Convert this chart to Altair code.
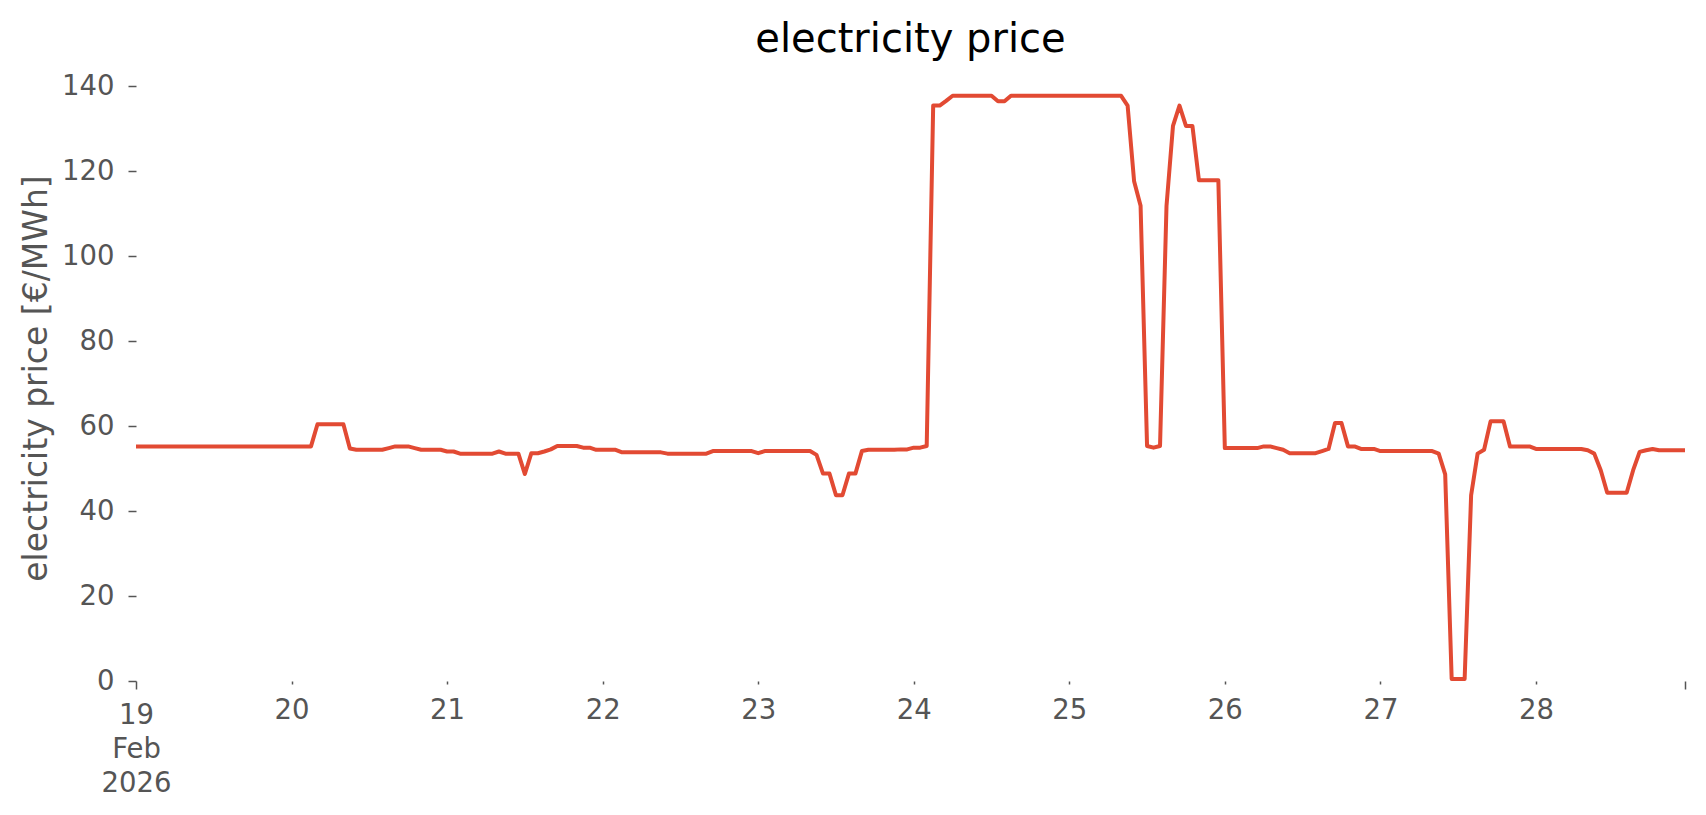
import altair as alt
import pandas as pd

# hourly day-ahead prices [€/MWh], 19 Feb 2026 00:00 .. 28 Feb 2026 23:00 (UTC)
feb19 = [55.2, 55.2, 55.2, 55.2, 55.2, 55.2, 55.2, 55.2, 55.2, 55.2, 55.2, 55.2,
         55.2, 55.2, 55.2, 55.2, 55.2, 55.2, 55.2, 55.2, 55.2, 55.2, 55.2, 55.2]
feb20 = [55.2, 55.2, 55.2, 55.2, 60.4, 60.4, 60.4, 60.4, 60.4, 54.7, 54.4, 54.4,
         54.4, 54.4, 54.4, 54.8, 55.2, 55.2, 55.2, 54.8, 54.4, 54.4, 54.4, 54.4]
feb21 = [54.0, 54.0, 53.5, 53.5, 53.5, 53.5, 53.5, 53.5, 54.0, 53.5, 53.5, 53.5,
         48.7, 53.6, 53.6, 54.0, 54.5, 55.3, 55.3, 55.3, 55.3, 54.9, 54.9, 54.4]
feb22 = [54.4, 54.4, 54.4, 53.8, 53.8, 53.8, 53.8, 53.8, 53.8, 53.8, 53.5, 53.5,
         53.5, 53.5, 53.5, 53.5, 53.5, 54.1, 54.1, 54.1, 54.1, 54.1, 54.1, 54.1]
feb23 = [53.6, 54.1, 54.1, 54.1, 54.1, 54.1, 54.1, 54.1, 54.1, 53.2, 48.8, 48.8,
         43.7, 43.7, 48.8, 48.8, 54.1, 54.4, 54.4, 54.4, 54.4, 54.4, 54.5, 54.5]
feb24 = [54.9, 54.9, 55.3, 135.4, 135.4, 136.5, 137.7, 137.7, 137.7, 137.7, 137.7, 137.7,
         137.7, 136.4, 136.4, 137.7, 137.7, 137.7, 137.7, 137.7, 137.7, 137.7, 137.7, 137.7]
feb25 = [137.7, 137.7, 137.7, 137.7, 137.7, 137.7, 137.7, 137.7, 137.7, 135.4, 117.6, 111.8,
         55.3, 54.9, 55.3, 111.8, 130.6, 135.4, 130.6, 130.6, 117.8, 117.8, 117.8, 117.8]
feb26 = [54.8, 54.8, 54.8, 54.8, 54.8, 54.8, 55.2, 55.2, 54.8, 54.4, 53.6, 53.6,
         53.6, 53.6, 53.6, 54.1, 54.6, 60.7, 60.7, 55.2, 55.2, 54.6, 54.6, 54.6]
feb27 = [54.1, 54.1, 54.1, 54.1, 54.1, 54.1, 54.1, 54.1, 54.1, 53.5, 48.6, 0.5,
         0.5, 0.5, 43.7, 53.5, 54.4, 61.1, 61.1, 61.1, 55.2, 55.2, 55.2, 55.2]
feb28 = [54.6, 54.6, 54.6, 54.6, 54.6, 54.6, 54.6, 54.6, 54.3, 53.5, 49.6, 44.3,
         44.3, 44.3, 44.3, 49.6, 53.9, 54.3, 54.6, 54.3, 54.3, 54.3, 54.3, 54.3]

days = [feb19, feb20, feb21, feb22, feb23, feb24, feb25, feb26, feb27, feb28]
first_label = ["19", "Feb", "2026"]
y_ticks = [0, 20, 40, 60, 80, 100, 120, 140]

prices = [v for d in days for v in d]
times = pd.date_range("2026-02-19 00:00", periods=len(prices), freq="h", tz="UTC")
df = pd.DataFrame({
    "time": [t.strftime("%Y-%m-%dT%H:%M:%SZ") for t in times],
    "price": prices,
})

start_ms = int(times[0].value // 10**6)
end_ms = int(times[-1].value // 10**6)
day_ms = [int(t.value // 10**6) for t in pd.date_range("2026-02-19", periods=10, freq="D", tz="UTC")]
tick_vals = day_ms + [end_ms]

label_expr = (
    f"time(datum.value) == {start_ms} ? {first_label!r} : "
    f"(time(datum.value) == {end_ms} ? '' : utcFormat(datum.value, '%-d'))"
)
major_test = f"time(datum.value) == {start_ms} || time(datum.value) == {end_ms}"

FONT = "DejaVu Sans"
GREY = "#555555"

x_axis = alt.Axis(
    values=tick_vals,
    labelExpr=label_expr,
    title=None,
    domain=False,
    grid=False,
    tickColor=GREY,
    tickWidth=1.5,
    tickSize={"condition": {"test": major_test, "value": 8}, "value": 3},
    labelColor=GREY,
    labelFont=FONT,
    labelFontSize=27.5,
    labelLineHeight=34,
    labelPadding=12,
    labelAlign="center",
    labelBaseline="top",
    labelFlush=False,
    labelOverlap=False,
)

y_axis = alt.Axis(
    values=y_ticks,
    format="d",
    title="electricity price [€/MWh]",
    titleFont=FONT,
    titleFontSize=33,
    titleFontWeight="normal",
    titleColor=GREY,
    titleX=-100,
    titleY=292,
    titleAngle=270,
    titleAlign="center",
    titleBaseline="middle",
    domain=False,
    grid=False,
    tickColor=GREY,
    tickWidth=1.5,
    tickSize=8,
    labelColor=GREY,
    labelFont=FONT,
    labelFontSize=27.5,
    labelPadding=14,
    labelOverlap=False,
)

chart = (
    alt.Chart(df)
    .mark_line(color="#E24A33", strokeWidth=4, strokeJoin="round", clip=False)
    .encode(
        x=alt.X("time:T", scale=alt.Scale(type="utc", domain=[start_ms, end_ms], nice=False), axis=x_axis),
        y=alt.Y("price:Q", scale=alt.Scale(domain=[0, 140], nice=False, zero=True), axis=y_axis),
    )
    .properties(
        width=1549,
        height=595,
        title=alt.TitleParams(
            "electricity price",
            font=FONT,
            fontSize=40,
            fontWeight="normal",
            color="black",
            anchor="middle",
            baseline="alphabetic",
            offset=37,
            dy=57,
        ),
        autosize=alt.AutoSizeParams(type="none"),
        padding={"left": 128, "top": 78, "right": 10, "bottom": 125},
        background="white",
    )
    .configure_view(stroke=None)
)

chart.save("out.html", embed_options={"renderer": "svg", "actions": False})
